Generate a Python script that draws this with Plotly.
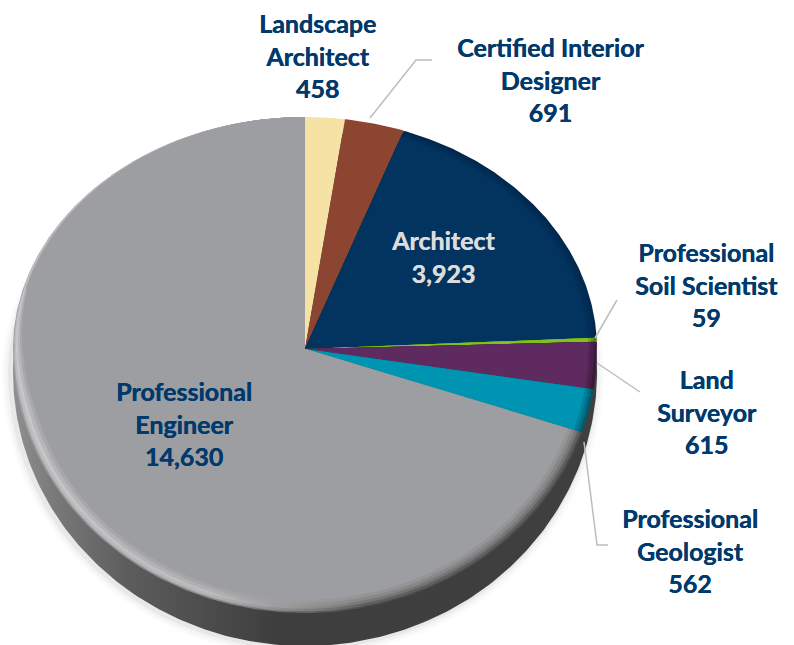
import math
import plotly.graph_objects as go

categories = ["Landscape Architect", "Certified Interior Designer", "Architect",
              "Professional Soil Scientist", "Land Surveyor", "Professional Geologist",
              "Professional Engineer"]
values = [458, 691, 3923, 59, 615, 562, 14630]
colors = ["#f6e2a4", "#8b4530", "#03335f", "#7ec21f", "#5f2a5f", "#0094b3", "#9d9ea2"]
label_lines = [["Landscape", "Architect", "458"], ["Certified Interior", "Designer", "691"],
               ["Architect", "3,923"], ["Professional", "Soil Scientist", "59"],
               ["Land", "Surveyor", "615"], ["Professional", "Geologist", "562"],
               ["Professional", "Engineer", "14,630"]]

# projection of the tilted pie (axis units are image pixels)
CX, CY, RX, RY_UP, RY_DOWN = 305, 349, 292, 232, 264
NAVY = "#003a6c"
total = sum(values)


def rim(theta, f=1.0):
    c = math.cos(theta)
    ry = RY_UP if c >= 0 else RY_DOWN
    return CX + f * RX * math.sin(theta), CY - f * ry * c


def taper(theta):
    """Width of the bevel: full along the front, fading out towards the back."""
    d = math.degrees(theta)
    if d < 255:
        return 1.0
    if d > 350:
        return 0.0
    return 0.3 * (350 - d) / 95 if d > 285 else 1.0 - 0.7 * (d - 255) / 30


def wedge(a0, a1, f=1.0, tapered=False):
    n = max(2, int(abs(a1 - a0) / 0.01))
    pts = []
    for i in range(n + 1):
        t = a0 + (a1 - a0) * i / n
        pts.append(rim(t, 1 - (1 - f) * taper(t) if tapered else f))
    return [CX] + [p[0] for p in pts] + [CX], [CY] + [p[1] for p in pts] + [CY]


def shade(hexcol, k):
    r, g, b = (int(hexcol[i:i + 2], 16) for i in (1, 3, 5))
    return f"rgb({int(r * k)},{int(g * k)},{int(b * k)})"


fig = go.Figure()


def wall(dx=0, dy=0, grow=0):
    xs, ys = [], []
    for i in range(361):
        t = math.radians(i)
        c = math.cos(t)
        ry = 240 if c >= 0 else 274 + grow
        xs.append(305 + dx + (292 + grow) * math.sin(t))
        ys.append(372 + dy - ry * c)
    return xs, ys


for grow, col in [(9, "#fbfbfb"), (6, "#f4f4f4"), (3, "#e8e8e8")]:
    x, y = wall(-2, 1, grow)
    fig.add_trace(go.Scatter(x=x, y=y, fill="toself", mode="lines", line_width=0,
                             fillcolor=col, hoverinfo="skip", showlegend=False))
x, y = wall()
fig.add_trace(go.Scatter(
    x=x, y=y, fill="toself", mode="lines", line_width=0, hoverinfo="skip", showlegend=False,
    fillgradient=dict(type="horizontal", colorscale=[
        [0, "#8f8f8f"], [0.08, "#777777"], [0.2, "#5c5c5c"], [0.45, "#3e3e3f"], [1, "#3f3f40"]])))

# top face
gray_rings = [
    (1.0, "#9d9ea2", "#8c8c8c", "#4c4c4c"),
    (0.994, "#bcbcbe", "#b4b4b6", "#5f5f5f"),
    (0.984, "#c8c8ca", "#bcbcbe", "#767676"),
    (0.974, "#b8b8ba", "#b0b0b2", "#878787"),
    (0.962, "#a9a9ac", "#a6a6a8", "#959597"),
    (0.95, "#9d9ea2", "#9d9ea2", "#9d9ea2"),
]
cum = 0
for name, val, col, lines in zip(categories, values, colors, label_lines):
    a0 = 2 * math.pi * cum / total
    cum += val
    a1 = 2 * math.pi * cum / total
    if name == "Professional Engineer":
        for f, c1, c2, c3 in gray_rings:
            x, y = wedge(a0, a1, f, tapered=True)
            fig.add_trace(go.Scatter(
                x=x, y=y, fill="toself", mode="lines", line_width=0, name=name,
                hoverinfo="skip", showlegend=False,
                fillgradient=dict(type="horizontal",
                                  colorscale=[[0, c1], [0.35, c2], [0.62, c3], [1, c3]])))
    elif name in ("Architect", "Professional Soil Scientist", "Land Surveyor", "Professional Geologist"):
        for f, k in [(1.0, 0.62), (0.99, 0.75), (0.98, 0.88), (0.97, 1.0)]:
            x, y = wedge(a0, a1, f)
            k2 = k if name != "Architect" else (1 + k) / 2
            fig.add_trace(go.Scatter(x=x, y=y, fill="toself", mode="lines", line_width=0, name=name,
                                     fillcolor=shade(col, k2), hoverinfo="skip", showlegend=False))
    else:
        x, y = wedge(a0, a1)
        fig.add_trace(go.Scatter(x=x, y=y, fill="toself", mode="lines", line_width=0, name=name,
                                 fillcolor=col, hoverinfo="skip", showlegend=False))

# leader lines
leaders = [
    ([370, 416, 432], [118, 60, 60]),
    ([595, 617], [338, 300]),
    ([597, 640], [363, 392]),
    ([584, 597, 608], [442, 545, 545]),
]
for lx, ly in leaders:
    fig.add_trace(go.Scatter(x=lx, y=ly, mode="lines", line=dict(color="#bdbdbd", width=1.5),
                             hoverinfo="skip", showlegend=False))

label_pos = [(317, 55), (550, 79), (443, 256), (706, 284), (707, 411), (690, 550), (184, 423)]
for lines, (lx, ly), name in zip(label_lines, label_pos, categories):
    tc = "#dcdcdc" if name == "Architect" else NAVY
    fig.add_annotation(x=lx, y=ly, text="<b>" + "<br>".join(lines) + "</b>", showarrow=False,
                       align="center", xanchor="center", yanchor="middle",
                       font=dict(family="Lato", size=25, color=tc, shadow=f"0.4px 0 0 {tc}"))

fig.update_xaxes(range=[0, 794], visible=False, fixedrange=True)
fig.update_yaxes(range=[645, 0], visible=False, fixedrange=True)
fig.update_layout(width=794, height=645, margin=dict(l=0, r=0, t=0, b=0),
                  paper_bgcolor="white", plot_bgcolor="white", showlegend=False)
fig.write_html("out.html", config={"displayModeBar": False},
               post_script="document.body.style.margin='0';")
